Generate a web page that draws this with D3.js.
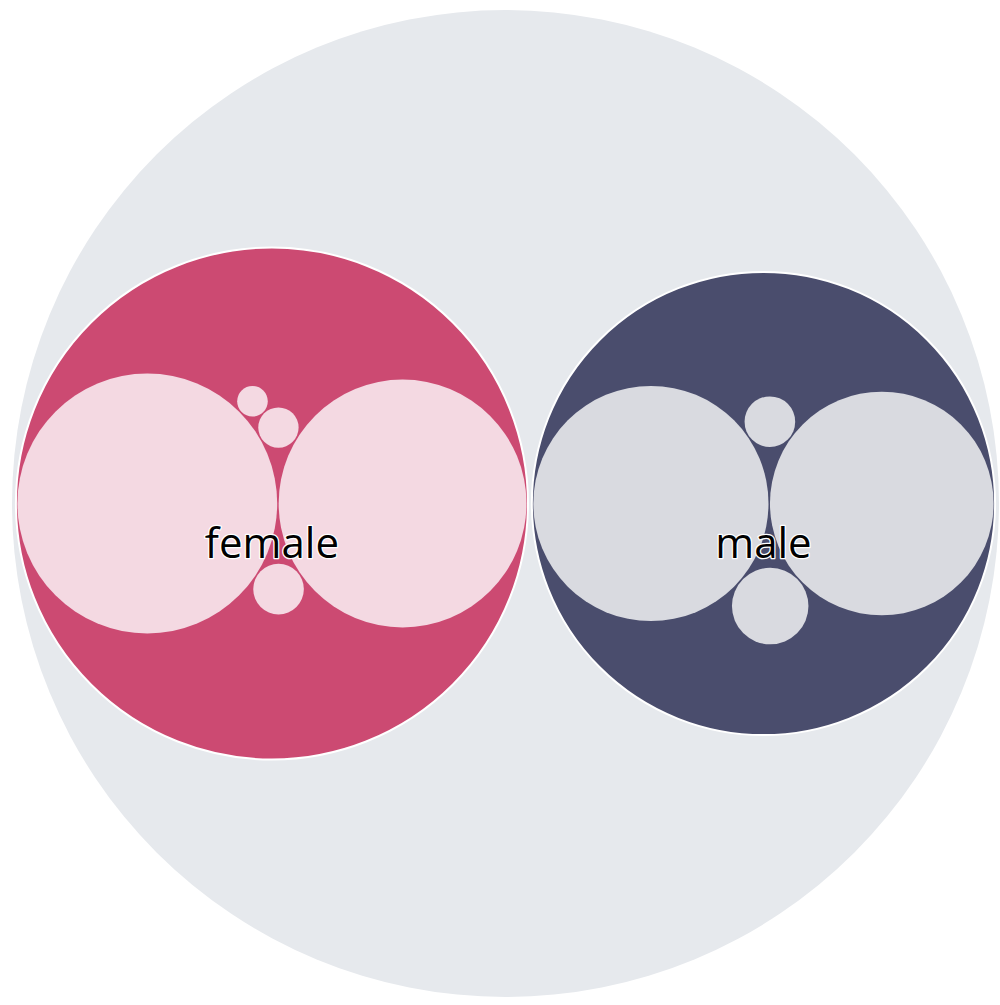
<!DOCTYPE html>
<html>
<head>
  <meta charset="UTF-8">
  <script src="https://cdn.jsdelivr.net/npm/d3@7"></script>
  <style>
    body { margin: 0; background: #fff; }
    .grouplabel {
      font-family: 'Open Sans', sans-serif;
      font-size: 42px;
      fill: #000;
      stroke: #fff;
      stroke-width: 2.5;
      stroke-linejoin: round;
      paint-order: stroke;
      text-anchor: middle;
      pointer-events: none;
    }
  </style>
</head>
<body>
<svg id="packSVG"></svg>
<script>
  // data (leaf values ~ circle area)
  const groups = ["female", "male"];
  const femaleLeaves = ["female 1", "female 2", "female 3", "female 4", "female 5"];
  const femaleValues = [166, 151, 6.3, 4.0, 2.3];
  const maleLeaves = ["male 1", "male 2", "male 3", "male 4"];
  const maleValues = [136, 123, 14.4, 6.3];

  const groupColor = { female: "#cc4a72", male: "#4a4d6d" };
  const leafColor = { female: "#f4d9e2", male: "#d9dae0" };

  const width = 1000, height = 1005;
  const diameter = 987;

  const svg = d3.select("#packSVG")
    .attr("width", width)
    .attr("height", height);

  const leafSets = [
    femaleLeaves.map((n, i) => ({ name: n, value: femaleValues[i] })),
    maleLeaves.map((n, i) => ({ name: n, value: maleValues[i] }))
  ];

  const nested = {
    name: "root",
    children: groups.map((g, i) => ({ name: g, children: leafSets[i] }))
  };

  const root = d3.hierarchy(nested)
    .sum(d => d.value || 0)
    .sort((a, b) => b.value - a.value);

  d3.pack()
    .size([diameter, diameter])
    .padding(d => d.depth === 0 ? 4 : 1.5)(root);

  const chart = svg.append("g")
    .attr("transform", `translate(12, 10)`);

  chart.append("g")
    .selectAll("circle")
    .data(root.descendants())
    .join("circle")
    .attr("cx", d => d.x)
    .attr("cy", d => d.y)
    .attr("r", d => d.r)
    .attr("fill", d => {
      if (d.depth === 0) return "#e6e9ed";
      if (d.depth === 1) return groupColor[d.data.name];
      return leafColor[d.parent.data.name];
    })
    .attr("stroke", d => d.depth === 1 ? "#fff" : "none")
    .attr("stroke-width", 2);

  chart.append("g")
    .selectAll("text")
    .data(root.children)
    .join("text")
    .attr("class", "grouplabel")
    .attr("x", d => d.x)
    .attr("y", d => d.y)
    .attr("dy", "1.3em")
    .text(d => d.data.name);
</script>
</body>
</html>
